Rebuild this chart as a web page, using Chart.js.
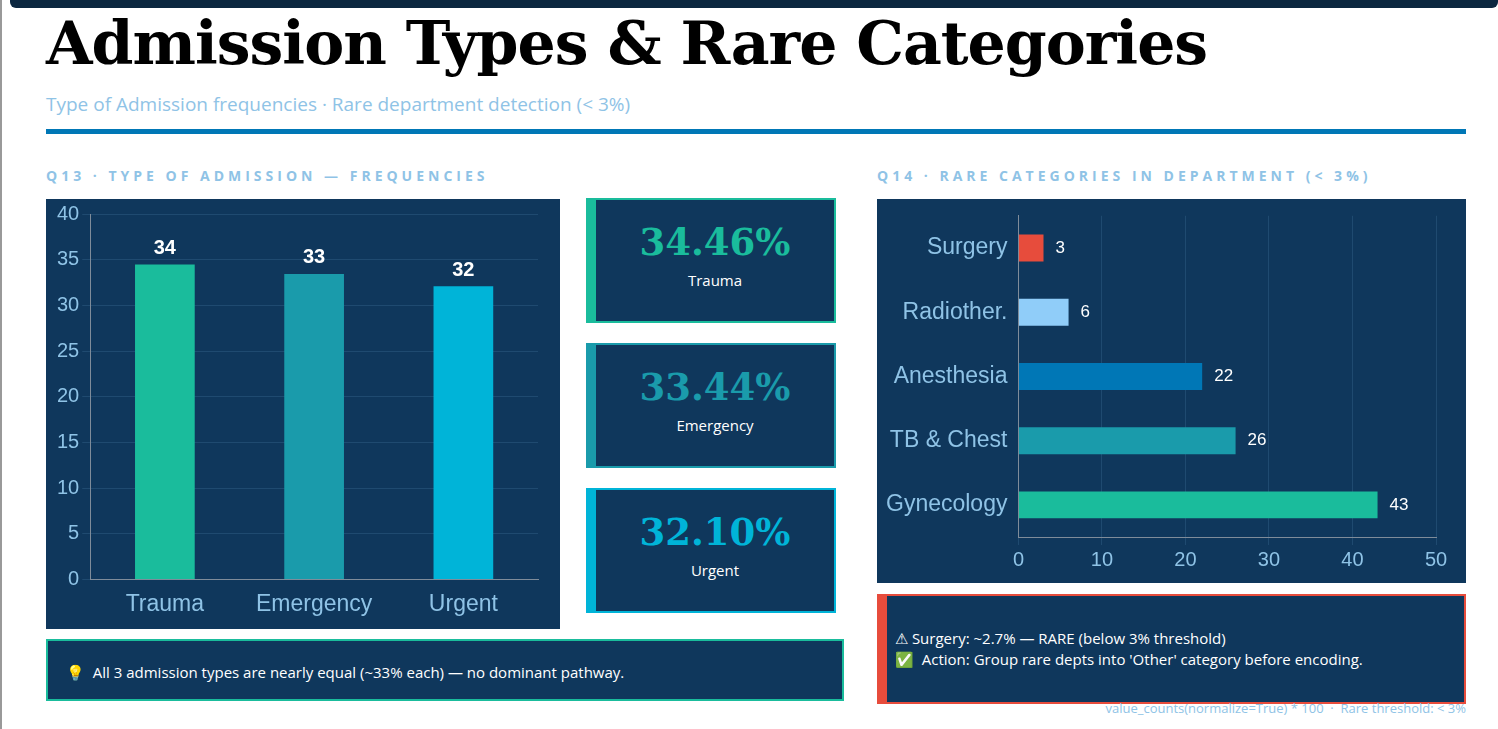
<!DOCTYPE html>
<html><head><meta charset="utf-8">
<script src="https://cdn.jsdelivr.net/npm/chart.js@4"></script>
<style>
body{margin:0;width:1498px;height:729px;background:#fff;position:relative;overflow:hidden;font-family:"Open Sans",sans-serif}
.abs{position:absolute}
.panel{background:#0f375c}
.sec{color:#8fc3e6;font-weight:bold;font-size:14px;letter-spacing:4px}
.kpi{position:absolute;left:586px;width:238px;height:121px;background:#0f375c;border:2px solid;border-left-width:10px;text-align:center}
.kpi .v{font-family:"DejaVu Serif",serif;font-weight:bold;font-size:37px;margin-top:20px}
.kpi .l{color:#fff;font-size:15px;margin-top:6px}
</style></head><body>
<div class="abs" style="left:10px;top:0;width:1488px;height:8px;background:#0b2740;border-radius:0 0 6px 6px"></div>
<div class="abs" style="left:0;top:0;width:2px;height:729px;background:#999"></div>
<div class="abs" style="left:46px;top:8px;font-family:'DejaVu Serif',serif;font-weight:bold;font-size:60px;color:#000;letter-spacing:-1px">Admission Types &amp; Rare Categories</div>
<div class="abs" style="left:46px;top:91px;font-size:19px;color:#8fc3e6">Type of Admission frequencies · Rare department detection (&lt; 3%)</div>
<div class="abs" style="left:46px;top:129px;width:1420px;height:5px;background:#0077b6"></div>
<div class="abs sec" style="left:46px;top:166px">Q13 · TYPE OF ADMISSION — FREQUENCIES</div>
<div class="abs sec" style="left:877px;top:166px">Q14 · RARE CATEGORIES IN DEPARTMENT (&lt; 3%)</div>
<div class="abs panel" style="left:46px;top:199px;width:514px;height:430px"><canvas id="c1"></canvas></div>
<div class="abs panel" style="left:877px;top:199px;width:589px;height:384px"><canvas id="c2"></canvas></div>
<div class="kpi" style="top:198px;border-color:#1abc9c"><div class="v" style="color:#1abc9c">34.46%</div><div class="l">Trauma</div></div>
<div class="kpi" style="top:343px;border-color:#1a9bab"><div class="v" style="color:#1a9bab">33.44%</div><div class="l">Emergency</div></div>
<div class="kpi" style="top:488px;border-color:#00b4d8"><div class="v" style="color:#00b4d8">32.10%</div><div class="l">Urgent</div></div>
<div class="abs panel" style="left:46px;top:639px;width:798px;height:62px;border:2px solid #1abc9c;box-sizing:border-box;color:#fff;font-size:15px;line-height:62px;padding-left:18px">💡&nbsp; All 3 admission types are nearly equal (~33% each) — no dominant pathway.</div>
<div class="abs panel" style="left:877px;top:594px;width:589px;height:110px;border:2px solid #e74c3c;border-left-width:10px;box-sizing:border-box;color:#fff;font-size:15px;padding:32px 0 0 8px;line-height:21px">⚠ Surgery: ~2.7% — RARE (below 3% threshold)<br>✅&nbsp; Action: Group rare depts into 'Other' category before encoding.</div>
<div class="abs" style="right:32px;top:699px;font-size:13px;color:#8fc3e6">value_counts(normalize=True) * 100 &nbsp;·&nbsp; Rare threshold: &lt; 3%</div>
<script>
const admTypes = ['Trauma','Emergency','Urgent'];
const admCounts = [34.46,33.44,32.10];
const admLabels = ['34','33','32'];
const admColors = ['#1abc9c','#1a9bab','#00b4d8'];
const depts = ['Surgery','Radiother.','Anesthesia','TB & Chest','Gynecology'];
const deptCounts = [3,6,22,26,43];
const deptColors = ['#e74c3c','#90cdf9','#0077b6','#1a9bab','#1abc9c'];

const tickColor = '#8fc3e6', gridColor = '#1f4a70';
const valueLabels = {
  id:'valueLabels',
  afterDatasetsDraw(chart, args, opts){
    const ctx = chart.ctx; ctx.save();
    ctx.fillStyle = '#fff'; ctx.font = opts.font;
    chart.getDatasetMeta(0).data.forEach((el,i)=>{
      if (chart.options.indexAxis === 'y') {
        ctx.textAlign='left'; ctx.textBaseline='middle';
        ctx.fillText(opts.texts[i], el.x+12, el.y);
      } else {
        ctx.textAlign='center'; ctx.textBaseline='bottom';
        ctx.fillText(opts.texts[i], el.x, el.y-6);
      }
    });
    ctx.restore();
  }
};

new Chart(document.getElementById('c1'), {
  type:'bar',
  data:{labels:admTypes, datasets:[{data:admCounts, backgroundColor:admColors, barPercentage:0.4, categoryPercentage:1}]},
  options:{
    responsive:true, maintainAspectRatio:false, animation:false,
    layout:{padding:{left:8,right:22,top:12,bottom:8}},
    plugins:{legend:{display:false}, tooltip:{enabled:false}, valueLabels:{font:'bold 20px Arial', texts:admLabels}},
    scales:{
      y:{min:0,max:40,ticks:{stepSize:5,color:tickColor,font:{size:20,family:'Arial'}},grid:{color:gridColor},border:{color:'#7f8c9a'}},
      x:{ticks:{color:tickColor,font:{size:23,family:'Arial'}},grid:{display:false,drawTicks:true},border:{color:'#7f8c9a'}}
    }
  },
  plugins:[valueLabels]
});

new Chart(document.getElementById('c2'), {
  type:'bar',
  data:{labels:depts, datasets:[{data:deptCounts, backgroundColor:deptColors, barPercentage:0.42, categoryPercentage:1}]},
  options:{
    indexAxis:'y', responsive:true, maintainAspectRatio:false, animation:false,
    layout:{padding:{left:6,right:30,top:14,bottom:8}},
    plugins:{legend:{display:false}, tooltip:{enabled:false}, valueLabels:{font:'17px Arial', texts:deptCounts.map(String)}},
    scales:{
      x:{min:0,max:50,ticks:{stepSize:10,color:tickColor,font:{size:20,family:'Arial'}},grid:{color:gridColor},border:{color:'#7f8c9a'}},
      y:{ticks:{color:tickColor,font:{size:23,family:'Arial'}},grid:{display:false},border:{color:'#7f8c9a'}}
    }
  },
  plugins:[valueLabels]
});
</script>
</body></html>
